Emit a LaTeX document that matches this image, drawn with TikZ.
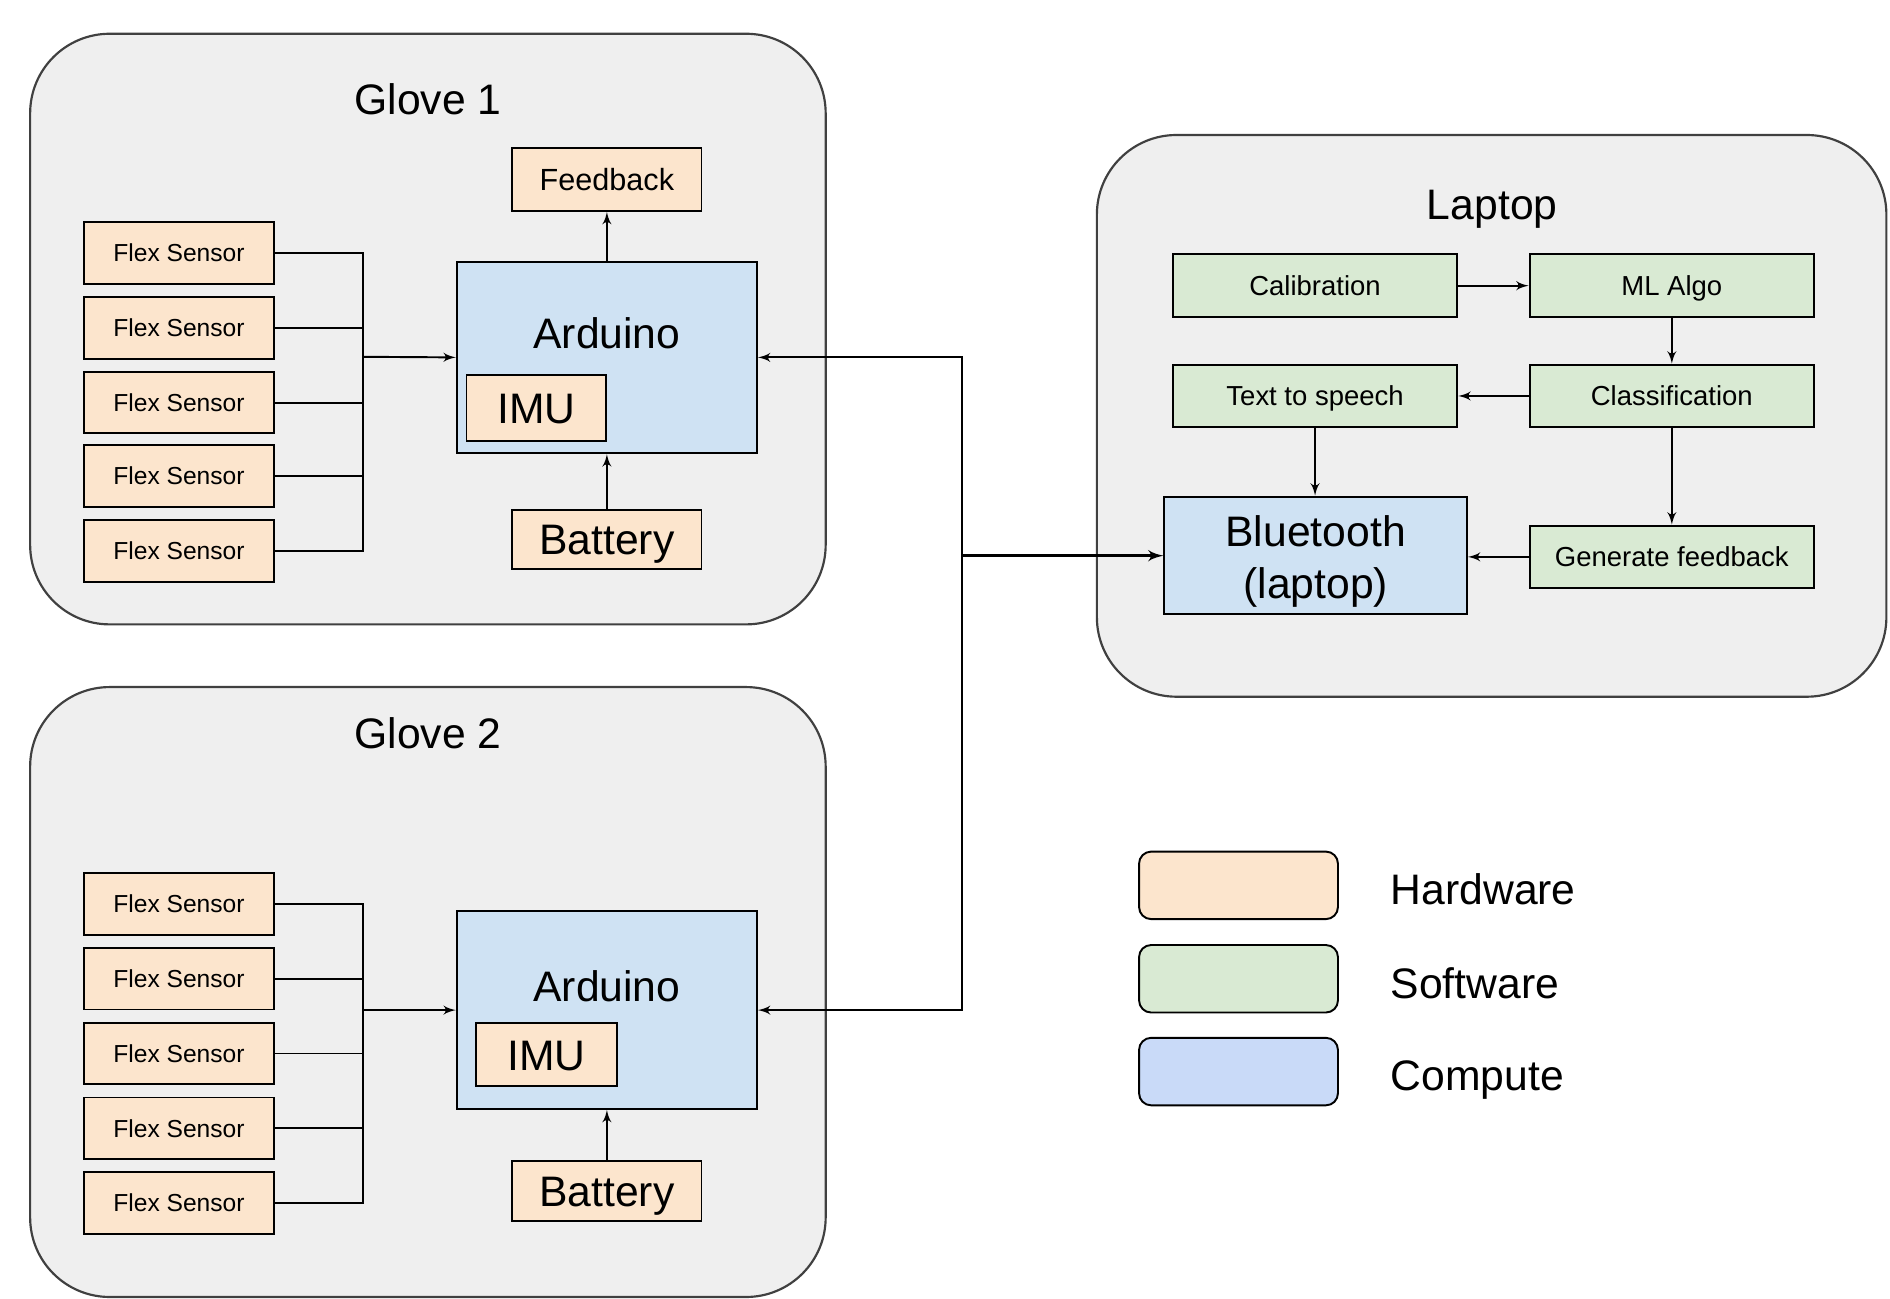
\documentclass[tikz,border=0pt]{standalone}
\usepackage{fontspec}
\setmainfont{Liberation Sans}
\usetikzlibrary{arrows}

\begin{document}
\begin{tikzpicture}[>=latex', x=0.5pt, y=-0.5pt,
  every node/.style={inner sep=0pt, line width=0.8pt},
  group/.style={draw=black!75, fill=groupgray, rounded corners=33pt, line width=0.9pt},
  hw/.style={draw, fill=hwpeach},
  cpu/.style={draw, fill=cpublue},
  sw/.style={draw, fill=swgreen, font=\fontsize{11.4}{13}\selectfont, text height=8.2pt, text depth=0pt, minimum width=118pt, minimum height=26pt},
  flex/.style={hw, font=\fontsize{10.2}{12}\selectfont, text height=7.3pt, text depth=0pt, minimum width=78.5pt, minimum height=25.5pt},
  big/.style={font=\fontsize{17.7}{21.5}\selectfont},
  capbig/.style={big, text height=12.7pt, text depth=0pt},
  wire/.style={line width=0.8pt},
  legend/.style={draw, rounded corners=5pt, line width=0.8pt, minimum width=82.5pt, minimum height=28pt}
]

\definecolor{groupgray}{HTML}{EFEFEF}
\definecolor{hwpeach}{HTML}{FCE5CD}
\definecolor{swgreen}{HTML}{D9EAD3}
\definecolor{cpublue}{HTML}{CFE2F3}
\definecolor{legendblue}{HTML}{C9DAF8}

% Page
\useasboundingbox (0,0) rectangle (1568,1077);
\fill[white] (0,0) rectangle (1568,1077);

% GLOVE 1
\node[group, minimum width=330pt, minimum height=245pt] (glove1) at (355,273) {};
\node[big, anchor=base] (glove1title) at (355,95) {Glove 1};

\coordinate (bus1) at (301,296);
\foreach \i/\y in {1/210,2/272,3/334,4/395,5/457} {
  \node[flex] (fa\i) at (148.5,\y) {Flex Sensor};
  \draw[wire] (fa\i.east) -| (bus1);
}

\node[cpu, minimum width=124.5pt, minimum height=79.5pt] (ard1) at (503.5,296.5) {};
\node[big, anchor=base] (ard1txt) at (503.5,289) {Arduino};
\node[hw, capbig, minimum width=58pt, minimum height=27.5pt] (imu1) at (445,338.5) {IMU};
\node[hw, font=\fontsize{12.7}{15}\selectfont, text height=9.1pt, text depth=0pt, minimum width=78.5pt, minimum height=26pt] (fb1) at (503.5,149) {Feedback};
\node[hw, capbig, minimum width=78.5pt, minimum height=24.5pt] (bat1) at (503.5,447.5) {Battery};

\draw[wire,->] (bus1) -- (ard1.west);
\draw[wire,->] (ard1) -- (fb1);
\draw[wire,->] (bat1) -- (ard1);

% GLOVE 2
\node[group, minimum width=330pt, minimum height=253pt] (glove2) at (355,823) {};
\node[big, anchor=base] (glove2title) at (355,621) {Glove 2};

\coordinate (bus2) at (301,838);
\foreach \i/\y in {1/750,2/812,3/874,4/936,5/998} {
  \node[flex] (fb\i) at (148.5,\y) {Flex Sensor};
  \draw[wire] (fb\i.east) -| (bus2);
}

\node[cpu, minimum width=124.5pt, minimum height=82pt] (ard2) at (503.5,838) {};
\node[big, anchor=base] (ard2txt) at (503.5,831) {Arduino};
\node[hw, capbig, minimum width=58.5pt, minimum height=26pt] (imu2) at (453.5,875) {IMU};
\node[hw, capbig, minimum width=78.5pt, minimum height=25pt] (bat2) at (503.5,988) {Battery};

\draw[wire,->] (bus2) -- (ard2.west);
\draw[wire,->] (bat2) -- (ard2);

% LAPTOP
\node[group, minimum width=327.5pt, minimum height=233pt] (laptop) at (1237.5,345) {};
\node[big, anchor=base] (laptoptitle) at (1238,182) {Laptop};

\node[sw] (cal) at (1091,237) {Calibration};
\node[sw] (mlalgo) at (1387,237) {ML Algo};
\node[sw] (tts) at (1091,328.5) {Text to speech};
\node[sw] (cls) at (1387,328.5) {Classification};
\node[sw] (genfb) at (1387,462) {Generate feedback};
\node[cpu, big, align=center, minimum width=125.5pt, minimum height=48.5pt] (bt) at (1091.5,460.5) {\rule{0pt}{17.9pt}Bluetooth\\(laptop)};

\draw[wire,->] (cal) -- (mlalgo);
\draw[wire,->] (mlalgo) -- (cls);
\draw[wire,->] (cls) -- (tts);
\draw[wire,->] (tts) -- (tts |- bt.north);
\draw[wire,->] (cls) -- (genfb);
\draw[wire,->] (genfb.west) -- (genfb.west -| bt.east);

% Links between gloves and laptop
\coordinate (hub) at (798,461);
\draw[line width=1.2pt,->] (hub) -- (hub -| bt.west);
\draw[wire,->] (hub) |- (ard1.east);
\draw[wire,->] (hub) |- (ard2.east);

% Legend
\node[legend, fill=hwpeach] (lghw) at (1027.5,734.5) {};
\node[legend, fill=swgreen] (lgsw) at (1027.5,812) {};
\node[legend, fill=legendblue] (lgcpu) at (1027.5,889) {};
\node[big, anchor=base west] (lghwtxt) at (1153,750) {Hardware};
\node[big, anchor=base west] (lgswtxt) at (1153,828) {Software};
\node[big, anchor=base west] (lgcputxt) at (1153,905) {Compute};

\end{tikzpicture}
\end{document}
